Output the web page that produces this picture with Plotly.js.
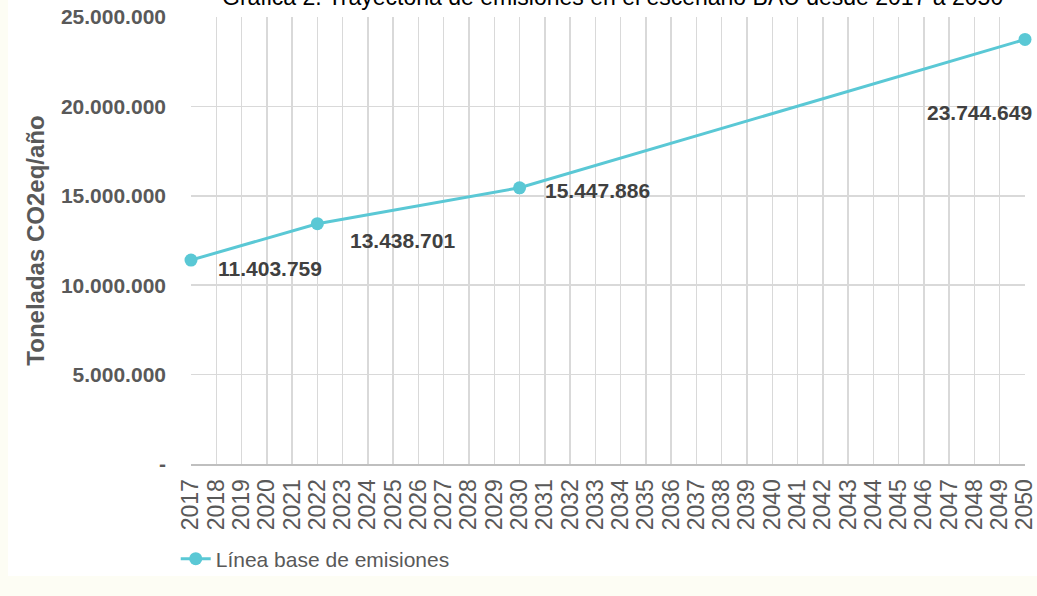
<!DOCTYPE html>
<html>
<head>
<meta charset="utf-8">
<script src="https://cdn.plot.ly/plotly-3.0.1.min.js"></script>
<style>
  html, body { margin: 0; padding: 0; background: #fdfdf4; width: 1037px; height: 596px; overflow: hidden; }
  #chart { position: absolute; left: 8px; top: 0; width: 1029px; height: 576px; background: #ffffff; }
</style>
</head>
<body>
<div id="chart"></div>
<script>
// ---- Data ----
const years = [2017, 2022, 2030, 2050];
const emissions = [11403759, 13438701, 15447886, 23744649];
const seriesName = 'Línea base de emisiones';
const chartTitle = 'Gráfica 2. Trayectoria de emisiones en el escenario BAU desde 2017 a 2050';
const yAxisTitle = 'Toneladas CO2eq/año';
const yTickVals = [0, 5000000, 10000000, 15000000, 20000000, 25000000];
const yTickText = ['-', '5.000.000', '10.000.000', '15.000.000', '20.000.000', '25.000.000'];
const xTickYears = [];
for (let y = 2017; y <= 2050; y++) xTickYears.push(y);

function fmt(n) { return String(n).replace(/\B(?=(\d{3})+(?!\d))/g, '.'); }

const FONT = 'Liberation Sans, Arial, Helvetica, sans-serif';
const labelShifts = [[79, -8], [85, -17], [78, -3], [-46, -73]];

const annotations = years.map((yr, i) => ({
  x: yr, y: emissions[i], xref: 'x', yref: 'y',
  text: '<b>' + fmt(emissions[i]) + '</b>',
  showarrow: false, xshift: labelShifts[i][0], yshift: labelShifts[i][1],
  font: { family: FONT, size: 21, color: '#404040' }
}));

annotations.push({
  text: chartTitle, xref: 'paper', yref: 'paper', x: 0.505, y: 1, yshift: 5,
  xanchor: 'center', yanchor: 'bottom', showarrow: false,
  font: { family: FONT, size: 23, color: '#000000' }
});

const trace = {
  x: years, y: emissions, type: 'scatter', mode: 'lines+markers', name: seriesName,
  line: { color: '#5ac8d5', width: 3 },
  marker: { color: '#5ac8d5', size: 13 },
  cliponaxis: false,
  hoverinfo: 'x+y'
};

const layout = {
  width: 1029, height: 576,
  margin: { l: 183, r: 12, t: 17, b: 112, pad: 0, autoexpand: false },
  paper_bgcolor: '#ffffff', plot_bgcolor: '#ffffff',
  font: { family: FONT, color: '#595959' },
  showlegend: true,
  legend: {
    orientation: 'h', xref: 'container', yref: 'container',
    x: 0.163, y: 0.0295, xanchor: 'left', yanchor: 'middle',
    font: { size: 21, color: '#595959' }, bgcolor: 'rgba(0,0,0,0)'
  },
  xaxis: {
    type: 'linear', range: [2017, 2050], tickmode: 'array', tickvals: xTickYears,
    ticktext: xTickYears.map(String), tickangle: -90, automargin: false,
    ticklabeloverflow: 'allow',
    showgrid: true, gridcolor: '#d9d9d9', gridwidth: 1.5,
    showline: true, linecolor: '#bfbfbf', linewidth: 2,
    ticks: '', zeroline: false, ticklabelstandoff: 4,
    tickfont: { size: 23, color: '#595959' }, fixedrange: true
  },
  yaxis: {
    range: [0, 25000000], tickmode: 'array', tickvals: yTickVals, ticktext: yTickText,
    showgrid: true, gridcolor: '#d9d9d9', gridwidth: 1.5, automargin: false,
    showline: false, zeroline: false, ticks: '', ticklabelstandoff: 24,
    tickfont: { size: 21, color: '#595959', weight: 'bold' },
    title: { text: '<b>' + yAxisTitle + '</b>', font: { size: 24, color: '#595959' }, standoff: 9 },
    fixedrange: true
  },
  annotations: annotations
};

Plotly.newPlot('chart', [trace], layout, { displayModeBar: false, staticPlot: true });
</script>
</body>
</html>
